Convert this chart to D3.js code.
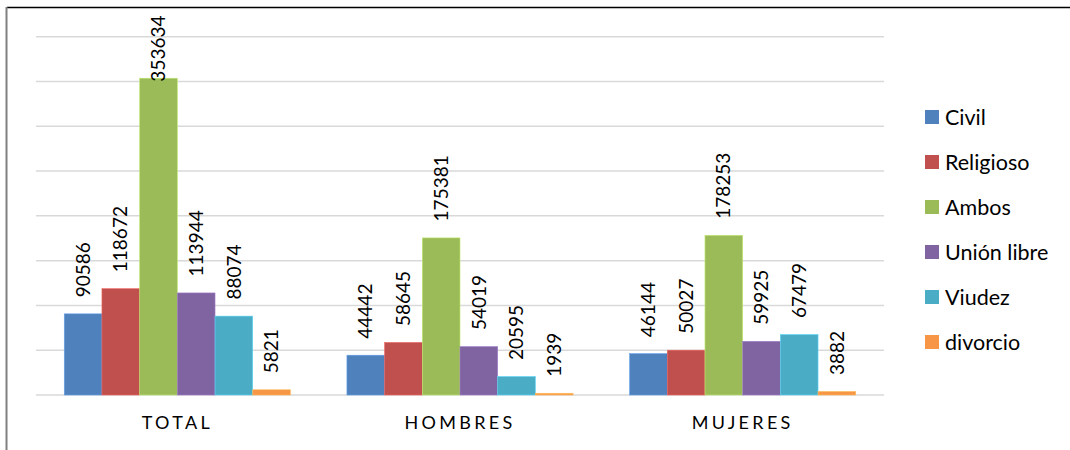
<!DOCTYPE html>
<html>
<head>
<meta charset="utf-8">
<script src="https://cdn.jsdelivr.net/npm/d3@7"></script>
<style>
  body { margin: 0; background: #fff; }
  svg { display: block; font-family: Lato, "Open Sans", sans-serif; }
</style>
</head>
<body>
<svg id="chart" width="1070" height="450"></svg>
<script>
// data
const groups = ["TOTAL", "HOMBRES", "MUJERES"];
const series = ["Civil", "Religioso", "Ambos", "Unión libre", "Viudez", "divorcio"];
const colors = ["#4F81BD", "#C0504D", "#9BBB59", "#8064A2", "#4BACC6", "#F79646"];
const civil = [90586, 44442, 46144];
const religioso = [118672, 58645, 50027];
const ambos = [353634, 175381, 178253];
const unionLibre = [113944, 54019, 59925];
const viudez = [88074, 20595, 67479];
const divorcio = [5821, 1939, 3882];
const gridTicks = [0, 50000, 100000, 150000, 200000, 250000, 300000, 350000, 400000];

const values = [civil, religioso, ambos, unionLibre, viudez, divorcio];
const rows = groups.map((g, i) => ({
  group: g,
  items: series.map((s, j) => ({ key: s, value: values[j][i], color: colors[j] }))
}));

const svg = d3.select("#chart");

// frame
svg.append("line")
  .attr("x1", 7).attr("x2", 1070).attr("y1", 7.5).attr("y2", 7.5)
  .attr("stroke", "#000").attr("stroke-width", 1.3);
svg.append("line")
  .attr("x1", 6.5).attr("x2", 6.5).attr("y1", 7).attr("y2", 450)
  .attr("stroke", "#808080").attr("stroke-width", 2);

const plot = { left: 36, right: 884, top: 36.7, bottom: 395 };

const x0 = d3.scaleBand()
  .domain(groups)
  .range([plot.left, plot.right])
  .paddingInner(0.2)
  .paddingOuter(0.1);

const x1 = d3.scaleBand()
  .domain(series)
  .range([0, x0.bandwidth()]);

const y = d3.scaleLinear()
  .domain([0, 400000])
  .range([plot.bottom, plot.top]);

// gridlines
svg.append("g")
  .selectAll("line")
  .data(gridTicks)
  .join("line")
  .attr("x1", plot.left).attr("x2", plot.right)
  .attr("y1", d => y(d)).attr("y2", d => y(d))
  .attr("stroke", "#d9d9d9")
  .attr("stroke-width", 1.5);

// bars
const g = svg.selectAll(".grp")
  .data(rows)
  .join("g")
  .attr("class", "grp")
  .attr("transform", d => `translate(${x0(d.group)},0)`);

g.selectAll("rect")
  .data(d => d.items)
  .join("rect")
  .attr("x", d => x1(d.key))
  .attr("y", d => y(d.value))
  .attr("width", x1.bandwidth())
  .attr("height", d => y(0) - y(d.value))
  .attr("fill", d => d.color)
  .attr("stroke", d => d3.color(d.color).brighter(0.6))
  .attr("stroke-width", 0.6);

// value labels
g.selectAll("text")
  .data(d => d.items)
  .join("text")
  .attr("font-size", 19)
  .attr("fill", "#000")
  .attr("dy", "0.35em")
  .text(d => d.value)
  .each(function(d) {
    const len = this.getComputedTextLength();
    const start = Math.max(y(d.value) - 16.5, 15.5 + len);
    const cx = x1(d.key) + x1.bandwidth() / 2;
    d3.select(this).attr("transform", `translate(${cx},${start}) rotate(-90)`);
  });

// category labels
svg.append("g")
  .selectAll("text")
  .data(groups)
  .join("text")
  .attr("x", d => x0(d) + x0.bandwidth() / 2)
  .attr("y", 429)
  .attr("text-anchor", "middle")
  .attr("font-size", 18)
  .attr("letter-spacing", 3.3)
  .attr("fill", "#000")
  .text(d => d);

// legend
const legend = svg.append("g")
  .selectAll("g")
  .data(series)
  .join("g")
  .attr("transform", (d, i) => `translate(925,${110 + i * 45})`);

legend.append("rect")
  .attr("width", 14).attr("height", 14)
  .attr("fill", (d, i) => colors[i]);

legend.append("text")
  .attr("x", 20)
  .attr("y", 7)
  .attr("dy", "0.36em")
  .attr("font-size", 21.5)
  .attr("fill", "#000")
  .text(d => d);
</script>
</body>
</html>
